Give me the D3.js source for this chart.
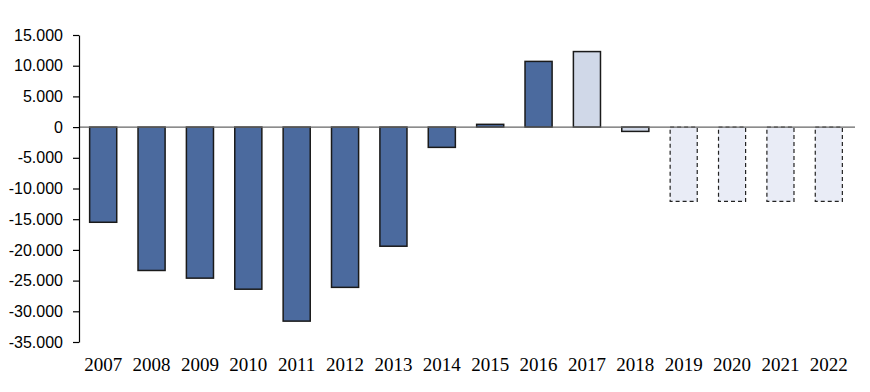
<!DOCTYPE html>
<html>
<head>
<meta charset="utf-8">
<script src="https://cdn.jsdelivr.net/npm/d3@7"></script>
<style>
  body { margin: 0; background: #fff; }
  svg { display: block; }
</style>
</head>
<body>
<div id="chart"></div>
<script>
// years on the x axis
var years = ["2007", "2008", "2009", "2010", "2011", "2012", "2013", "2014",
             "2015", "2016", "2017", "2018", "2019", "2020", "2021", "2022"]
// balance per year
var values = [-15500, -23350, -24600, -26400, -31600, -26100, -19400, -3300,
              450, 10700, 12300, -700, -12100, -12100, -12100, -12100]
// kind of bar: actual, light (estimate), projection (dashed)
var kinds = ["actual", "actual", "actual", "actual", "actual", "actual", "actual", "actual",
             "actual", "actual", "light", "light", "proj", "proj", "proj", "proj"]
var yTicks = [15000, 10000, 5000, 0, -5000, -10000, -15000, -20000, -25000, -30000, -35000]

var width = 870, height = 392
var margin = {left: 79, right: 17, top: 35, bottom: 50}

var svg = d3.select("#chart").append("svg")
  .attr("width", width)
  .attr("height", height)

var x = d3.scaleBand()
  .domain(years)
  .range([margin.left, width - margin.right])
  .paddingInner(0.44)
  .paddingOuter(0.22)

var y = d3.scaleLinear()
  .domain([-35000, 15000])
  .range([342, 35])

var fmt = function(d) {
  return d3.format(",")(d).replace(/,/g, ".").replace("−", "-")
}

var data = years.map(function(yr, i) {
  return {year: yr, val: values[i], kind: kinds[i]}
})

// bars
svg.selectAll(".bar")
  .data(data)
  .enter().append("rect")
  .attr("class", "bar")
  .attr("x", function(d) { return x(d.year) })
  .attr("y", function(d) { return y(Math.max(0, d.val)) })
  .attr("width", x.bandwidth())
  .attr("height", function(d) { return Math.abs(y(d.val) - y(0)) })
  .style("fill", function(d) {
    if (d.kind === "actual") return "#4b6a9e"
    if (d.kind === "light") return "#d0d8e8"
    return "#e9ecf6"
  })
  .style("stroke", function(d) { return d.kind === "proj" ? "#222" : "#1a1a1a" })
  .style("stroke-width", function(d) { return d.kind === "proj" ? 1.2 : 1.5 })
  .style("stroke-dasharray", function(d) { return d.kind === "proj" ? "4,3" : null })

// zero line
svg.append("line")
  .attr("x1", margin.left).attr("x2", width - margin.right + 2)
  .attr("y1", y(0)).attr("y2", y(0))
  .style("stroke", "#666")
  .style("stroke-width", 1.2)

// y axis
var yAxis = d3.axisLeft(y).tickValues(yTicks).tickSize(6).tickSizeOuter(0).tickFormat(fmt)
var gy = svg.append("g")
  .attr("transform", "translate(" + margin.left + ",0)")
  .call(yAxis)
gy.select(".domain").style("stroke", "#000").style("stroke-width", 1.2)
gy.selectAll(".tick line").style("stroke", "#000").style("stroke-width", 1.2)
gy.selectAll("text")
  .attr("x", -16)
  .style("font-family", "'Liberation Sans', Arial, sans-serif")
  .style("font-size", "16px")
  .style("fill", "#000")

// x labels
svg.selectAll(".xlab")
  .data(years)
  .enter().append("text")
  .attr("class", "xlab")
  .attr("x", function(d) { return x(d) + x.bandwidth() / 2 })
  .attr("y", 371)
  .attr("text-anchor", "middle")
  .style("font-family", "'Liberation Serif', 'Times New Roman', serif")
  .style("font-size", "19px")
  .style("fill", "#000")
  .text(function(d) { return d })
</script>
</body>
</html>
